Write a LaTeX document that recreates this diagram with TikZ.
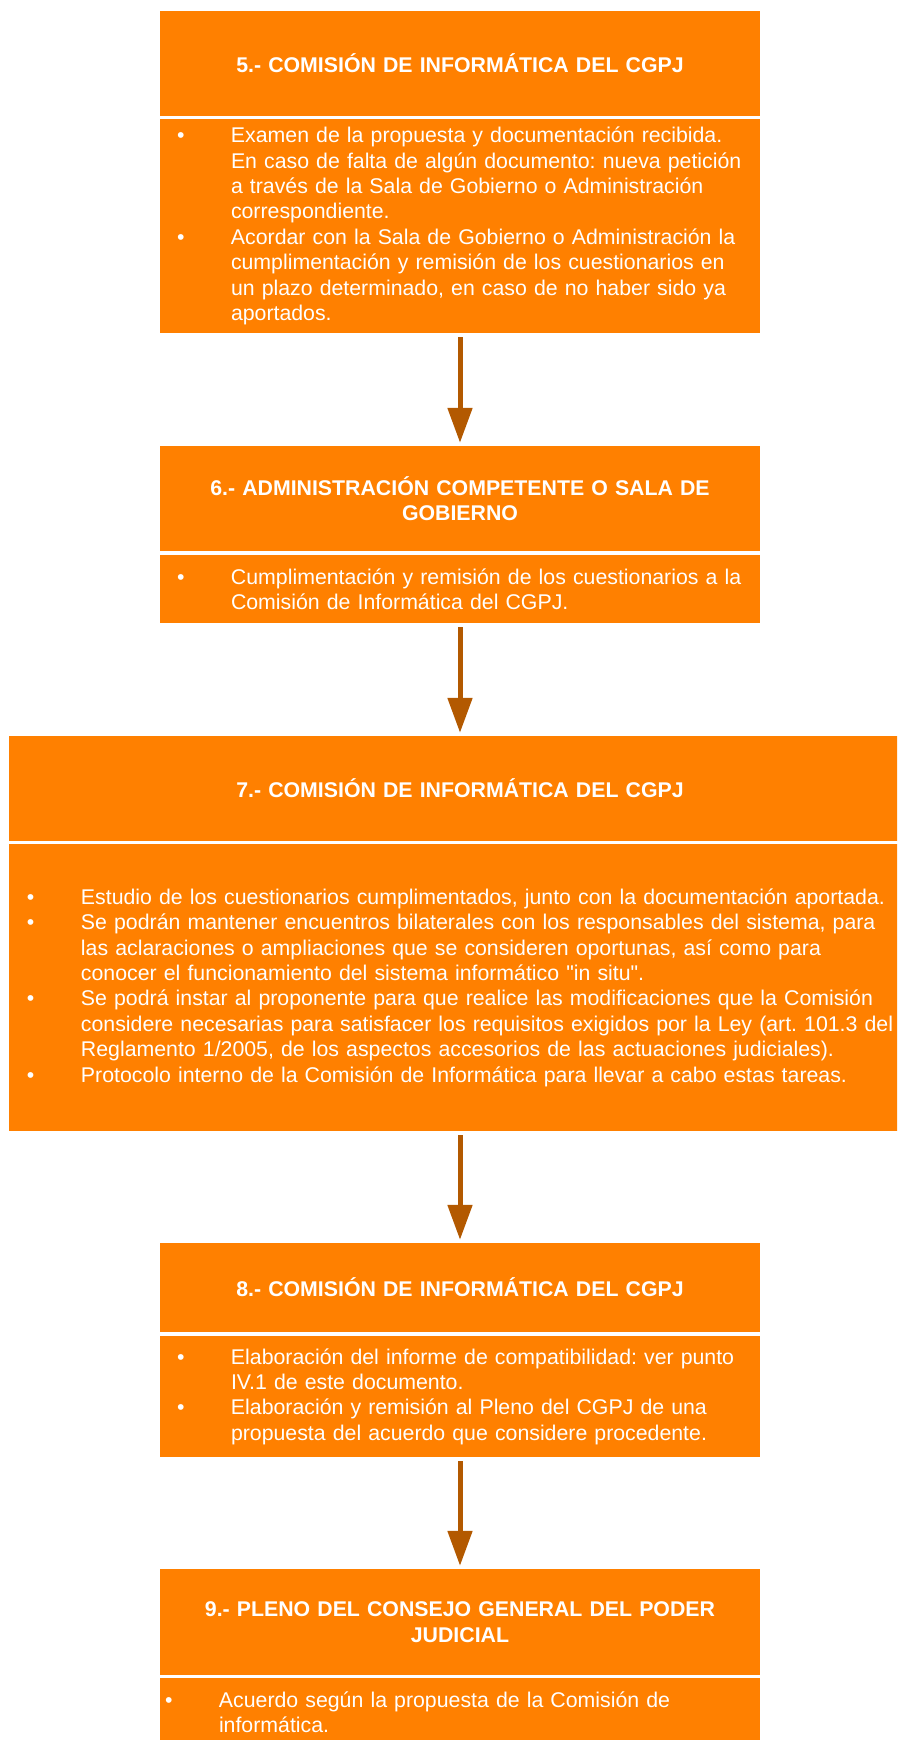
\documentclass[tikz,border=0pt]{standalone}
\usepackage{fontspec}
\setmainfont{Liberation Sans}
\newfontfamily\plainfont{Liberation Sans}
\usepackage{tikz}
\usetikzlibrary{arrows.meta}
\frenchspacing

\definecolor{boxorange}{RGB}{255,128,0}
\definecolor{arrowbrown}{RGB}{179,89,0}

\newcommand{\bul}[1]{\noindent\hangindent=54pt\hangafter=1\rightskip=-40pt plus 1fil
    \makebox[54pt][l]{\textbullet}#1\par}
\newcommand{\dq}{{\plainfont"}}

\begin{document}
\begin{tikzpicture}[
    x=1pt, y=-1pt,
    head/.style={rectangle, fill=boxorange, text=white, inner xsep=20pt, inner ysep=0pt,
                 minimum height=105pt, text width=560pt, align=center,
                 font=\fontsize{21.3}{25.6}\selectfont\bfseries},
    body/.style={rectangle, fill=boxorange, text=white, inner xsep=17pt, inner ysep=0pt,
                 text width=566pt, align=left,
                 font=\fontsize{21.3}{25.4}\selectfont},
    arrow/.style={-{Triangle[length=35pt, width=24pt]}, line width=5pt, draw=arrowbrown,
                  shorten <=4pt, shorten >=3pt}
]
    \useasboundingbox (0,0) rectangle (897,1740);
    \clip (0,0) rectangle (897,1740);

    % === 5 ===
    \node[head] (h5) at (460,63.5) {5.- COMISIÓN DE INFORMÁTICA DEL CGPJ};
    \node[body, minimum height=214pt] (b5) at (460,226) {%
        \bul{Examen de la propuesta y documentación recibida.\newline
             En caso de falta de algún documento: nueva petición\newline
             a través de la Sala de Gobierno o Administración\newline
             correspondiente.}
        \bul{Acordar con la Sala de Gobierno o Administración la\newline
             cumplimentación y remisión de los cuestionarios en\newline
             un plazo determinado, en caso de no haber sido ya\newline
             aportados.}};

    % === 6 ===
    \node[head] (h6) at (460,498.5) {6.- ADMINISTRACIÓN COMPETENTE O SALA DE\\GOBIERNO};
    \node[body, minimum height=68pt] (b6) at (460,589) {%
        \bul{Cumplimentación y remisión de los cuestionarios a la\newline
             Comisión de Informática del CGPJ.}};

    % === 7 ===
    \node[head, text width=862pt] (h7) at (460,788.5) {7.- COMISIÓN DE INFORMÁTICA DEL CGPJ};
    \node[body, text width=866pt, inner xsep=18pt, minimum height=287pt] (b7) at (460,987.5) {%
        \bul{Estudio de los cuestionarios cumplimentados, junto con la documentación aportada.}
        \bul{Se podrán mantener encuentros bilaterales con los responsables del sistema, para\newline
             las aclaraciones o ampliaciones que se consideren oportunas, así como para\newline
             conocer el funcionamiento del sistema informático \dq in situ\dq.}
        \bul{Se podrá instar al proponente para que realice las modificaciones que la Comisión\newline
             considere necesarias para satisfacer los requisitos exigidos por la Ley (art. 101.3 del\newline
             Reglamento 1/2005, de los aspectos accesorios de las actuaciones judiciales).}
        \bul{Protocolo interno de la Comisión de Informática para llevar a cabo estas tareas.}};

    % === 8 ===
    \node[head, minimum height=89pt] (h8) at (460,1287.5) {8.- COMISIÓN DE INFORMÁTICA DEL CGPJ};
    \node[body, minimum height=121pt] (b8) at (460,1396.5) {%
        \bul{Elaboración del informe de compatibilidad: ver punto\newline
             IV.1 de este documento.}
        \bul{Elaboración y remisión al Pleno del CGPJ de una\newline
             propuesta del acuerdo que considere procedente.}};

    % === 9 ===
    \node[head, minimum height=106pt] (h9) at (460,1622) {9.- PLENO DEL CONSEJO GENERAL DEL PODER\\JUDICIAL};
    \node[body, text width=590pt, inner xsep=5pt, minimum height=68pt] (b9) at (460,1712) {%
        \bul{Acuerdo según la propuesta de la Comisión de\newline
             informática.}};

    % === arrows ===
    \draw[arrow] (b5) -- (h6);
    \draw[arrow] (b6) -- (h7);
    \draw[arrow] (b7) -- (h8);
    \draw[arrow] (b8) -- (h9);

\end{tikzpicture}
\end{document}
